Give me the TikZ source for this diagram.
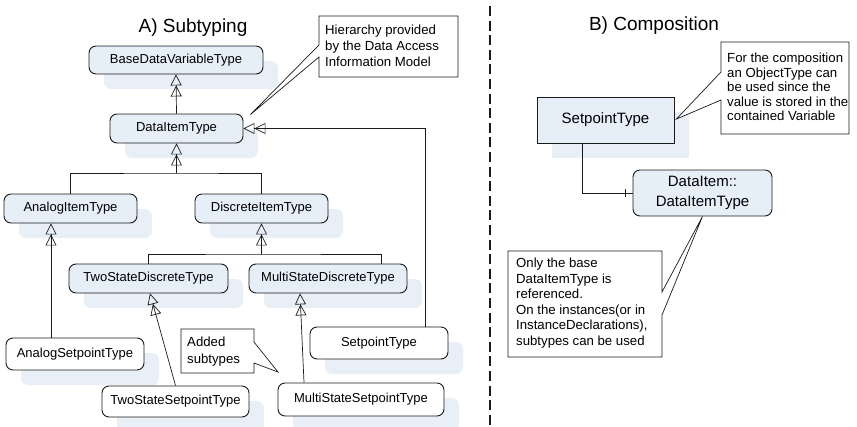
\documentclass[tikz,border=0pt]{standalone}
\usepackage{fontspec}
\setmainfont{Liberation Sans}
\usetikzlibrary{arrows.meta,shadows,calc}
\definecolor{boxfill}{HTML}{E6EEF8}
\definecolor{shadowc}{HTML}{E9EFF7}
\definecolor{linec}{HTML}{1A1A1A}
\tikzset{
  typebox/.style={draw=linec, line width=0.9pt, rounded corners=7pt, fill=boxfill, inner sep=0pt,
    font=\fontsize{13}{15}\selectfont,
    drop shadow={shadow xshift=15pt, shadow yshift=-15pt, fill=shadowc, opacity=1}},
  whitebox/.style={typebox, fill=white},
  plainbox/.style={draw=linec, line width=0.9pt, fill=boxfill, inner sep=0pt,
    font=\fontsize{15}{20}\selectfont, align=center},
  gen/.style={draw=linec, line width=0.7pt,
    -{Triangle[open,length=11pt,width=11pt,sep=0pt]Triangle[open,length=11pt,width=11pt]}},
  conn/.style={draw=linec, line width=0.7pt},
  callout/.style={draw=linec, line width=0.7pt, fill=white},
  ctext/.style={font=\fontsize{13.2}{15.5}\selectfont, align=left, inner sep=0pt, anchor=west},
  titletext/.style={font=\fontsize{19}{22}\selectfont, anchor=base, inner sep=0pt},
}
\begin{document}
\begin{tikzpicture}[x=1pt,y=-1pt]
\useasboundingbox (0,0) rectangle (857,426);

% titles
\node[titletext] (tA) at (193,32) {A) Subtyping};
\node[titletext] (tB) at (654,30) {B) Composition};

% A) Subtyping boxes
\node[typebox, minimum width=174pt, minimum height=28pt] (base) at (176,60) {BaseDataVariableType};
\node[typebox, minimum width=133pt, minimum height=29pt] (dit) at (176.5,128.5) {DataItemType};
\node[typebox, minimum width=133pt, minimum height=29pt] (analog) at (70.5,208.5) {AnalogItemType};
\node[typebox, minimum width=133pt, minimum height=29pt] (discrete) at (261.5,208.5) {DiscreteItemType};
\node[typebox, minimum width=159pt, minimum height=29pt] (twostate) at (148.5,278.5) {TwoStateDiscreteType};
\node[typebox, minimum width=158pt, minimum height=29pt] (multistate) at (328,278.5) {MultiStateDiscreteType};
\node[whitebox, minimum width=138pt, minimum height=32pt] (analogsp) at (75,354) {AnalogSetpointType};
\node[whitebox, minimum width=147pt, minimum height=31pt] (twostatesp) at (175.5,401.5) {TwoStateSetpointType};
\node[whitebox, minimum width=166pt, minimum height=33pt] (multisp) at (361,399.5) {MultiStateSetpointType};
\node[whitebox, minimum width=138pt, minimum height=32pt] (setpA) at (379,343) {SetpointType};

% A) connectors
\draw[gen] (dit.north) -- (base.south);
\coordinate (j1) at (176.5,173);
\draw[gen] (j1) -- (dit.south);
\draw[conn] (analog.north) |- (j1) -| (discrete.north);
\coordinate (j2) at (261.5,254);
\coordinate (msin) at ($(multistate.north)+(53,0)$);
\draw[gen] (j2) -- (discrete.south);
\draw[conn] (twostate.north) |- (j2) -| (msin);
\draw[gen] ($(analogsp.north)+(-24,0)$) -- ($(analog.south)+(-19.5,0)$);
\draw[gen] (twostatesp.north) -- ($(twostate.south)+(1.5,0)$);
\draw[gen] ($(multisp.north)+(-57,0)$) -- ($(multistate.south)+(-28,0)$);
\draw[gen] ($(setpA.north)+(46,0)$) |- (dit.east);

% A) callouts
\coordinate (hTip) at ($(dit.north east)+(7,1)$);
\draw[callout] (319,16) -- (458,16) -- (458,77) -- (319,77) -- (319,57) -- (hTip) -- (319,45) -- cycle;
\node[ctext, font=\fontsize{13.2}{16}\selectfont] (hText) at (325,46) {Hierarchy provided\\by the Data Access\\Information Model};
\coordinate (aTip) at (278,372);
\draw[callout] (181,329) -- (254,329) -- (254,342) -- (aTip) -- (254,363) -- (254,373) -- (181,373) -- cycle;
\node[ctext, font=\fontsize{13.2}{17}\selectfont] (aText) at (187,351.5) {Added\\subtypes};

% separator
\coordinate (dtop) at (490,6);
\coordinate (dbot) at (490,426);
\draw[linec, line width=2.6pt, dash pattern=on 10pt off 4.6pt] (dtop) -- (dbot);

% B) Composition
\node[plainbox, minimum width=137pt, minimum height=46pt,
  drop shadow={shadow xshift=15pt, shadow yshift=-15pt, fill=shadowc, opacity=1}] (setpB) at (605.5,120) {SetpointType};
\node[plainbox, rounded corners=7pt, minimum width=139pt, minimum height=46pt] (dataitemB) at (702.5,193) {DataItem::\\DataItemType};
\draw[conn] ($(setpB.south)+(-23.5,0)$) |- (dataitemB.west);
\draw[conn] ($(dataitemB.west)+(-7,-4)$) -- ($(dataitemB.west)+(-7,4)$);

\coordinate (cTip) at ($(setpB.east)+(2,-1)$);
\draw[callout] (721,42) -- (849,42) -- (849,134) -- (721,134) -- (721,100) -- (cTip) -- (721,72) -- cycle;
\node[ctext, font=\fontsize{13.2}{14.6}\selectfont] (cText) at (727,87) {For the composition\\an ObjectType can\\be used since the\\value is stored in the\\contained Variable};

\coordinate (oTip) at (dataitemB.south);
\draw[callout] (508,251) -- (662,251) -- (662,292) -- (oTip) -- (662,315) -- (662,357) -- (508,357) -- cycle;
\node[ctext, font=\fontsize{13.2}{15.6}\selectfont] (oText) at (516,303) {Only the base\\DataItemType is\\referenced.\\On the instances(or in\\InstanceDeclarations),\\subtypes can be used};
\end{tikzpicture}
\end{document}
